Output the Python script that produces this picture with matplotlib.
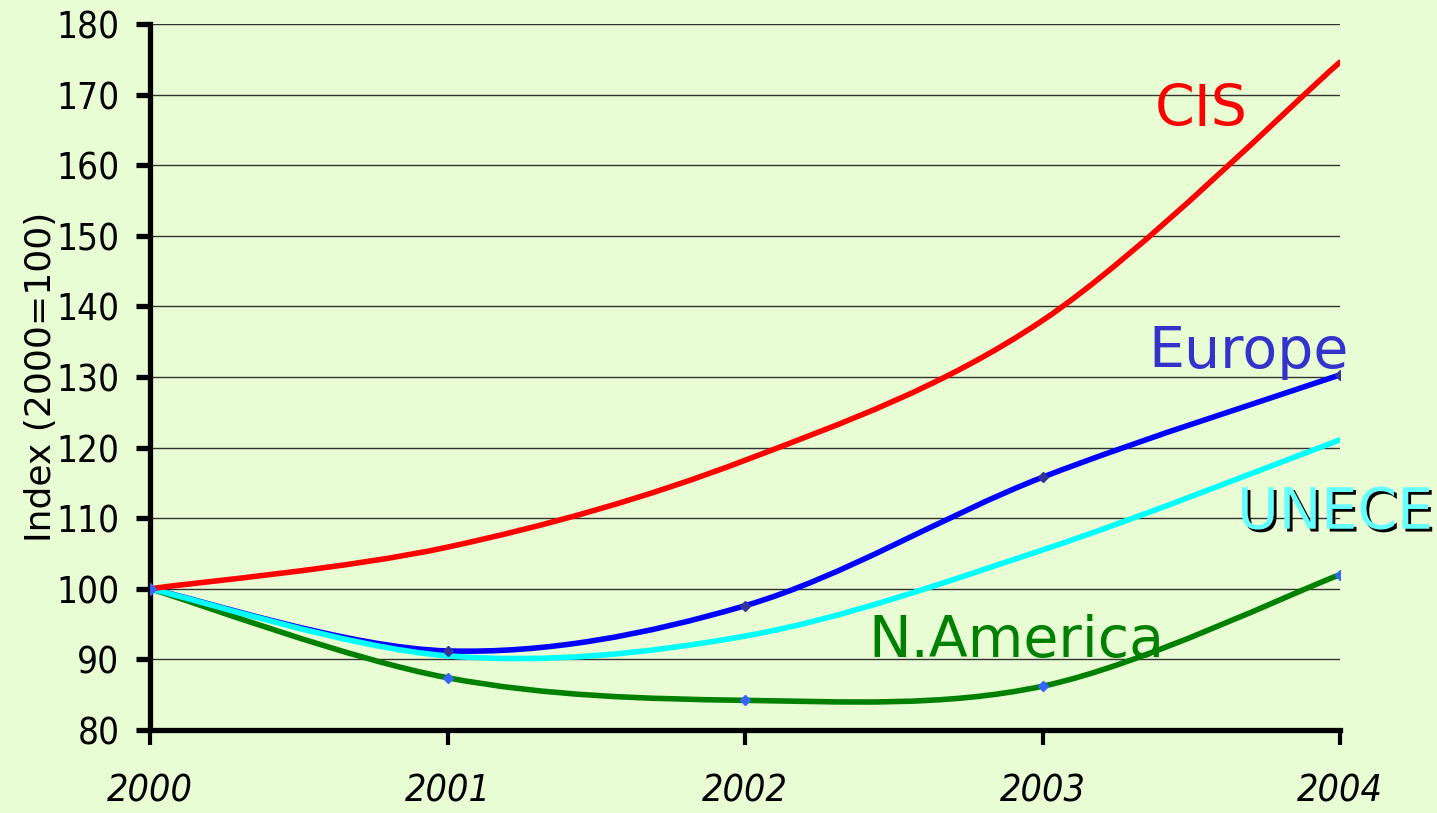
"""
Index of 2000-2004 by region (2000=100), smoothed lines like the Excel original.
"""

import matplotlib
matplotlib.use("Agg")
import matplotlib.pyplot as plt
import matplotlib.patheffects as pe
from matplotlib.path import Path
from matplotlib.patches import PathPatch

years = [2000, 2001, 2002, 2003, 2004]
cis = [100, 105.9, 118.2, 138.0, 174.6]
europe = [100, 91.2, 97.6, 115.8, 130.3]
unece = [100, 90.5, 93.3, 105.5, 121.1]
n_america = [100, 87.4, 84.2, 86.2, 102.0]
y_ticks = list(range(80, 181, 10))

BG = "#E9FDD4"
plt.rcParams['font.family'] = ['DejaVu Sans']


def smooth_path(xs, ys):
    """Bezier path through the points (Excel style smoothing, tension 1/6)."""
    pts = list(zip(xs, ys))
    verts = [pts[0]]
    codes = [Path.MOVETO]
    n = len(pts)
    for i in range(n - 1):
        p0 = pts[i - 1] if i > 0 else pts[i]
        p1 = pts[i]
        p2 = pts[i + 1]
        p3 = pts[i + 2] if i + 2 < n else pts[i + 1]
        c1 = (p1[0] + (p2[0] - p0[0]) / 6, p1[1] + (p2[1] - p0[1]) / 6)
        c2 = (p2[0] - (p3[0] - p1[0]) / 6, p2[1] - (p3[1] - p1[1]) / 6)
        verts += [c1, c2, p2]
        codes += [Path.CURVE4] * 3
    return Path(verts, codes)


fig = plt.figure(figsize=(14.37, 8.13), dpi=100, facecolor=BG)
ax = fig.add_axes([0.1044, 0.1021, 0.8281, 0.8684])
ax.set_facecolor(BG)

ax.set_xlim(2000, 2004)
ax.set_ylim(80, 180)

# grid lines
for t in y_ticks[1:]:
    ax.axhline(t, color="#333333", lw=1.0, zorder=1)

series = [
    (n_america, "#008000", "#3366FF"),
    (europe, "#0000FF", "#333399"),
    (unece, "#00FFFF", None),
    (cis, "#FF0000", None),
]
for vals, col, mcol in series:
    patch = PathPatch(smooth_path(years, vals), facecolor="none", edgecolor=col,
                      lw=4.0, capstyle="round", joinstyle="round", zorder=3)
    ax.add_patch(patch)
    if mcol:
        ax.plot(years, vals, ls="none", marker="D", ms=5, color=mcol, zorder=4)
ax.plot([2000], [100], ls="none", marker="D", ms=6, color="#3366FF", zorder=5)

# labels
ax.text(2003.378, 167.8, "CIS", color="#FF0000", fontsize=41, ha="left", va="center")
ax.text(2003.355, 133.5, "Europe", color="#3333CC", fontsize=41, ha="left", va="center")
ax.text(2003.654, 110.7, "UNECE", color="#66FFFF", fontsize=41, ha="left", va="center",
        path_effects=[pe.SimplePatchShadow(offset=(2, -2), shadow_rgbFace="black", alpha=1.0),
                      pe.Normal()], clip_on=False)
ax.text(2002.413, 92.6, "N.America", color="#008000", fontsize=41, ha="left", va="center")

for s in ["top", "right"]:
    ax.spines[s].set_visible(False)
for s in ["left", "bottom"]:
    ax.spines[s].set_linewidth(3.8)
    ax.spines[s].set_color("black")

ax.set_yticks(y_ticks)
ax.set_xticks(years)
ax.tick_params(axis="y", length=10, width=3.8, pad=12)
ax.tick_params(axis="x", length=11, width=3.0, pad=20)
for lbl in ax.get_yticklabels():
    lbl.set_fontstretch("condensed")
    lbl.set_fontsize(26.5)
for lbl in ax.get_xticklabels():
    lbl.set_fontstretch("condensed")
    lbl.set_fontsize(27)
    lbl.set_fontstyle("italic")

ax.set_ylabel("Index (2000=100)", fontsize=26)
ax.yaxis.set_label_coords(-0.077, 0.5)

fig.savefig("out.png", dpi=100, facecolor=BG)
